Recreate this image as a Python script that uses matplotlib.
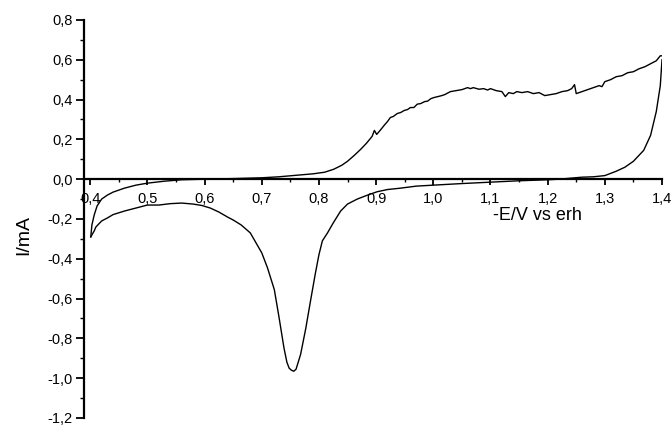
import matplotlib

matplotlib.use("Agg")
import matplotlib.pyplot as plt
from matplotlib.ticker import FuncFormatter, MultipleLocator

# anodic sweep, 0.4 -> 1.4 V
forward_e = [
    0.401, 0.403, 0.407, 0.412, 0.420, 0.430, 0.440, 0.460, 0.480, 0.500,
    0.530, 0.560, 0.600, 0.650, 0.700, 0.730, 0.750, 0.770, 0.790, 0.810,
    0.826, 0.840, 0.850, 0.862, 0.873, 0.883, 0.893, 0.897, 0.901, 0.907,
    0.914, 0.920, 0.925, 0.930, 0.937, 0.943, 0.949, 0.955, 0.960, 0.966,
    0.972, 0.978, 0.985, 0.990, 0.996, 1.001, 1.008, 1.015, 1.020, 1.030,
    1.040, 1.050, 1.060, 1.065, 1.070, 1.080, 1.088, 1.095, 1.100, 1.110,
    1.120, 1.126, 1.132, 1.140, 1.146, 1.155, 1.165, 1.175, 1.185, 1.195,
    1.205, 1.215, 1.225, 1.235, 1.242, 1.247, 1.250, 1.260, 1.270, 1.280,
    1.290, 1.295, 1.300, 1.310, 1.320, 1.330, 1.340, 1.350, 1.360, 1.370,
    1.380, 1.390, 1.397, 1.399,
]
forward_i = [
    -0.290, -0.230, -0.180, -0.135, -0.100, -0.080, -0.065, -0.045, -0.030, -0.020,
    -0.010, -0.003, 0.000, 0.003, 0.007, 0.012, 0.017, 0.022, 0.027, 0.035,
    0.050, 0.070, 0.090, 0.120, 0.150, 0.180, 0.215, 0.245, 0.225, 0.245,
    0.270, 0.290, 0.310, 0.315, 0.330, 0.335, 0.345, 0.350, 0.360, 0.360,
    0.377, 0.380, 0.390, 0.392, 0.405, 0.410, 0.415, 0.420, 0.425, 0.440,
    0.445, 0.450, 0.460, 0.455, 0.460, 0.452, 0.455, 0.448, 0.455, 0.445,
    0.440, 0.415, 0.435, 0.430, 0.440, 0.435, 0.440, 0.430, 0.435, 0.420,
    0.425, 0.430, 0.440, 0.445, 0.455, 0.475, 0.430, 0.440, 0.450, 0.460,
    0.470, 0.465, 0.490, 0.500, 0.515, 0.520, 0.535, 0.540, 0.555, 0.565,
    0.580, 0.595, 0.620, 0.620,
]

# cathodic sweep, 1.4 -> 0.4 V
reverse_e = [
    1.400, 1.397, 1.390, 1.380, 1.368, 1.350, 1.335, 1.320, 1.300, 1.280,
    1.260, 1.240, 1.220, 1.200, 1.150, 1.100, 1.050, 1.000, 0.970, 0.943,
    0.920, 0.902, 0.885, 0.867, 0.850, 0.838, 0.825, 0.815, 0.806, 0.800,
    0.794, 0.786, 0.777, 0.768, 0.760, 0.756, 0.752, 0.748, 0.744, 0.739,
    0.730, 0.722, 0.710, 0.700, 0.690, 0.680, 0.664, 0.650, 0.640, 0.625,
    0.610, 0.595, 0.580, 0.560, 0.540, 0.520, 0.500, 0.480, 0.460, 0.440,
    0.430, 0.420, 0.415, 0.410, 0.407, 0.403, 0.401,
]
reverse_i = [
    0.600, 0.470, 0.340, 0.220, 0.145, 0.090, 0.060, 0.040, 0.018, 0.012,
    0.010, 0.005, 0.000, -0.003, -0.008, -0.015, -0.022, -0.030, -0.035, -0.045,
    -0.052, -0.063, -0.080, -0.100, -0.125, -0.160, -0.220, -0.270, -0.310, -0.380,
    -0.470, -0.600, -0.750, -0.880, -0.955, -0.965, -0.960, -0.950, -0.920, -0.850,
    -0.690, -0.555, -0.445, -0.370, -0.320, -0.270, -0.230, -0.205, -0.190, -0.165,
    -0.145, -0.132, -0.125, -0.120, -0.123, -0.130, -0.130, -0.145, -0.160, -0.178,
    -0.195, -0.210, -0.225, -0.240, -0.260, -0.280, -0.290,
]

x_label = "-E/V vs erh"
y_label = "I/mA"


def comma(value, pos):
    value = round(value, 2)
    if value == 0:
        value = 0.0
    return "{:.1f}".format(value).replace(".", ",")


def main():
    plt.rcParams["font.family"] = ["Liberation Sans", "DejaVu Sans"]
    fig = plt.figure(figsize=(6.71, 4.25), dpi=100)
    ax = fig.add_axes([0.1259, 0.0165, 0.8607, 0.9365])

    ax.plot(forward_e, forward_i, color="black", lw=1.0)
    ax.plot(reverse_e, reverse_i, color="black", lw=1.0)

    ax.set_xlim(0.39, 1.4)
    ax.set_ylim(-1.2, 0.8)

    for side in ["top", "right"]:
        ax.spines[side].set_visible(False)
    ax.spines["bottom"].set_position(("data", 0))
    ax.spines["left"].set_linewidth(1.6)
    ax.spines["bottom"].set_linewidth(1.6)

    ax.xaxis.set_major_locator(MultipleLocator(0.1))
    ax.xaxis.set_minor_locator(MultipleLocator(0.05))
    ax.yaxis.set_major_locator(MultipleLocator(0.2))
    ax.yaxis.set_minor_locator(MultipleLocator(0.1))
    ax.xaxis.set_major_formatter(FuncFormatter(comma))
    ax.yaxis.set_major_formatter(FuncFormatter(comma))

    ax.tick_params(axis="x", which="major", direction="out", length=4, width=1.3,
                   pad=5, labelsize=10.5)
    ax.tick_params(axis="x", which="minor", direction="out", length=2.5, width=1.0)
    ax.tick_params(axis="y", which="major", direction="out", length=5.5, width=1.3,
                   pad=3, labelsize=10.5)
    ax.tick_params(axis="y", which="minor", direction="out", length=3, width=1.0)

    ax.text(537, 210, x_label, transform=None, fontsize=13, ha="center", va="center")
    fig.text(24 / 671, 1 - 235 / 425, y_label, rotation=90, fontsize=14,
             ha="center", va="center")

    fig.savefig("out.png", dpi=100)
    plt.close(fig)


if __name__ == "__main__":
    main()
